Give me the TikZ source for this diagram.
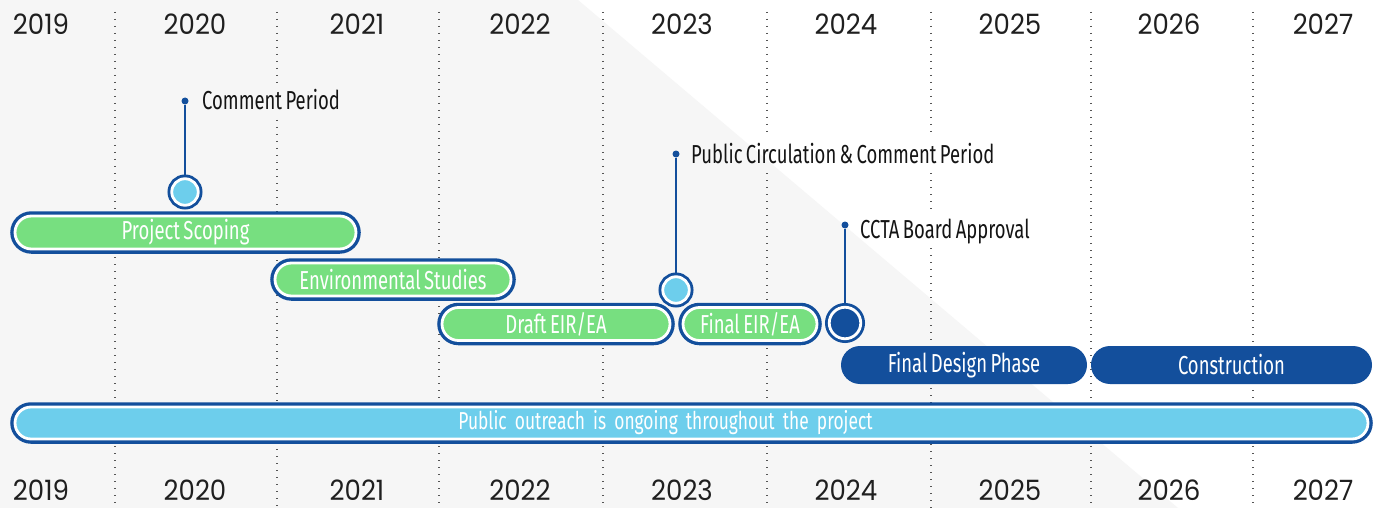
\documentclass[tikz,border=0pt]{standalone}
\usepackage{fontspec}
\newfontfamily\yearfont[FakeStretch=0.93]{Poppins}
\newfontfamily\labfont[FakeStretch=0.71,WordSpace=0.7]{Fira Sans}
\definecolor{navy}{HTML}{134F9C}
\definecolor{lgreen}{HTML}{77DF80}
\definecolor{lblue}{HTML}{6DCEEC}
\definecolor{bggray}{HTML}{F6F6F6}
\definecolor{dotc}{HTML}{555555}
\tikzset{
  yearlab/.style={font=\yearfont\fontsize{28}{28}\selectfont, text=black!88, inner sep=0pt, anchor=center},
  milelab/.style={font=\labfont\fontsize{26}{26}\selectfont, text=black!92, inner sep=0pt, anchor=base west},
  gridline/.style={dotc, line width=1.3pt, dash pattern=on 1.3pt off 5.7pt},
  ringbar/.style={rectangle, rounded corners=16.5pt, minimum height=33pt, inner sep=0pt,
    preaction={draw=navy, line width=9.5pt}, draw=white, line width=2.8pt,
    font=\labfont\fontsize{26}{26}\selectfont, text=white},
  greenbar/.style={ringbar, fill=lgreen},
  bluebar/.style={ringbar, fill=lblue, minimum height=32pt, rounded corners=16pt,
    font=\labfont\fontsize{24.5}{24.5}\selectfont},
  navybar/.style={rectangle, rounded corners=19pt, minimum height=38pt, inner sep=0pt, fill=navy,
    font=\labfont\fontsize{26}{26}\selectfont, text=white},
  ringcirc/.style={circle, inner sep=0pt, minimum size=26.5pt,
    preaction={draw=navy, line width=8.5pt}, draw=white, line width=2.8pt},
  stem/.style={navy, line width=2pt},
  pin/.style={circle, fill=navy, inner sep=0pt, minimum size=7pt},
}
\begin{document}
\begin{tikzpicture}[x=1pt, y=-1pt]
% background
\fill[white] (0,0) rectangle (1381,508);
\fill[bggray] (0,0) -- (578,0) -- (1178,508) -- (0,508) -- cycle;
\useasboundingbox (0,0) rectangle (1381,508);
% grid lines
\foreach \x in {115,439,603,1091,1253} \draw[gridline] (\x,12) -- (\x,508);
\draw[gridline] (277,12) -- (277,83) (277,120) -- (277,508);
\draw[gridline] (767,12) -- (767,136) (767,173) -- (767,508);
\draw[gridline] (931,12) -- (931,136) (931,173) -- (931,211) (931,248) -- (931,508);
% years
\foreach \x/\y [count=\i] in {41/2019,195/2020,357/2021,520/2022,682/2023,846/2024,1010/2025,1169/2026,1323/2027}{
  \node[yearlab] (top\i) at (\x,24) {\y};
  \node[yearlab] (bot\i) at (\x,490) {\y};
}
% bars
\node[greenbar, minimum width=341pt] (ps) at (185.5,232.5) {Project Scoping};
\node[greenbar, minimum width=236pt] (es) at (393,279.5) {Environmental Studies};
\node[greenbar, minimum width=228pt] (de) at (556,324) {Draft EIR/EA};
\node[greenbar, minimum width=134pt] (fe) at (750,324) {Final EIR/EA};
\node[navybar, minimum width=246pt] (fd) at (964,365) {Final Design Phase};
\node[navybar, minimum width=281pt] (co) at (1231.5,365) {Construction};
\node[bluebar, minimum width=1353pt, text width=1353pt, align=center] (po) at (691.5,423) {\hspace*{-52pt}Public outreach is ongoing throughout the project};
% milestones
\node[pin] (d1) at (185,101) {};
\node[pin] (d2) at (676,154) {};
\node[pin] (d3) at (845,225) {};
\coordinate (c1p) at (185,192);
\coordinate (c2p) at (676,290);
\coordinate (c3p) at (845,323);
\draw[stem] (d1) -- (c1p);
\draw[stem] (d2) -- (c2p);
\draw[stem] (d3) -- (c3p);
\node[ringcirc, fill=lblue] (c1) at (c1p) {};
\node[ringcirc, fill=lblue] (c2) at (c2p) {};
\node[ringcirc, fill=navy, minimum size=31.5pt] (c3) at (c3p) {};
\node[milelab] (l1) at (202,110) {Comment Period};
\node[milelab] (l2) at (691,163) {Public Circulation \& Comment Period};
\node[milelab] (l3) at (860,238) {CCTA Board Approval};
\end{tikzpicture}
\end{document}
